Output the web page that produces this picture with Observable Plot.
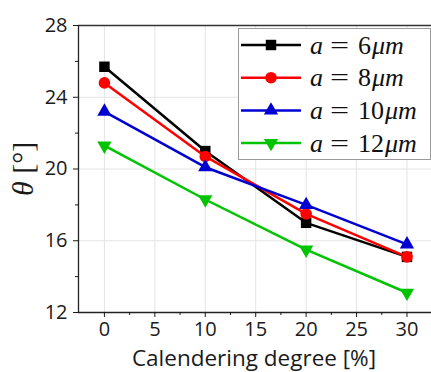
<!DOCTYPE html>
<html>
<head>
<meta charset="utf-8">
<script src="https://cdn.jsdelivr.net/npm/d3@7"></script>
<script src="https://cdn.jsdelivr.net/npm/@observablehq/plot@0.6"></script>
<style>
  body { margin: 0; background: #fff; }
  #chart { position: relative; width: 431px; height: 372px; overflow: hidden; }
  #chart svg { display: block; }
</style>
</head>
<body>
<div id="chart"></div>
<script>
// Contact angle θ versus calendering degree for four particle sizes a
const calendering = [0, 10, 20, 30];
const theta6 = [25.7, 21.0, 17.0, 15.1];
const theta8 = [24.8, 20.7, 17.5, 15.1];
const theta10 = [23.2, 20.1, 18.0, 15.8];
const theta12 = [21.3, 18.3, 15.5, 13.1];
const sizeLabels = ["6", "8", "10", "12"];
const seriesColors = ["#000000", "#ff0000", "#0000d0", "#00c400"];

const xTicks = [0, 5, 10, 15, 20, 25, 30];
const xMinorTicks = [2.5, 7.5, 12.5, 17.5, 22.5, 27.5];
const yTicks = [12, 16, 20, 24, 28];
const yMinorTicks = [14, 18, 22, 26];
const xDomain = [-2.57, 32.43];
const yDomain = [12, 28];

// downward-pointing triangle, same geometry as d3.symbolTriangle flipped
const triangleDown = {
  draw(ctx, size) {
    const s3 = Math.sqrt(3);
    const y = Math.sqrt(size / (s3 * 3));
    ctx.moveTo(0, 2 * y);
    ctx.lineTo(-s3 * y, -y);
    ctx.lineTo(s3 * y, -y);
    ctx.closePath();
  }
};
const symbols = [d3.symbolSquare, d3.symbolCircle, d3.symbolTriangle, triangleDown];
const radii = [5.9, 5.8, 5.3, 5.3];

const values = [theta6, theta8, theta10, theta12];
const series = values.map((vals, i) => ({
  label: sizeLabels[i],
  color: seriesColors[i],
  symbol: symbols[i],
  r: radii[i],
  points: calendering.map((c, j) => ({x: c, y: vals[j]}))
}));

const sansFont = "'Open Sans', sans-serif";
const serifFont = "'Liberation Serif', 'DejaVu Serif', serif";

const marks = [
  Plot.gridX(xTicks, {stroke: "#e4e4e4", strokeOpacity: 1, strokeWidth: 1}),
  Plot.gridY(yTicks, {stroke: "#e4e4e4", strokeOpacity: 1, strokeWidth: 1}),
  Plot.ruleY([yDomain[1]], {stroke: "#333", strokeWidth: 1.3}),
  Plot.ruleY([yDomain[0]], {stroke: "#222", strokeWidth: 1.3}),
  Plot.ruleX([xDomain[0]], {stroke: "#222", strokeWidth: 1.3}),
  Plot.axisX({ticks: xTicks, tickSize: 5, tickPadding: 4, fontSize: 20, label: null, tickFormat: d => String(d)}),
  Plot.axisX({ticks: xMinorTicks, tickSize: 3, tickFormat: () => "", label: null}),
  Plot.axisY({ticks: yTicks, tickSize: 5, tickPadding: 6, fontSize: 20, label: null, tickFormat: d => String(d)}),
  Plot.axisY({ticks: yMinorTicks, tickSize: 3, tickFormat: () => "", label: null})
];
for (const s of series) {
  marks.push(Plot.line(s.points, {x: "x", y: "y", stroke: s.color, strokeWidth: 2.5}));
  marks.push(Plot.dot(s.points, {x: "x", y: "y", symbol: s.symbol, r: s.r, fill: s.color, stroke: "none"}));
}

const chart = Plot.plot({
  width: 431,
  height: 372,
  marginLeft: 78,
  marginRight: 0,
  marginTop: 25,
  marginBottom: 60,
  style: {fontFamily: sansFont, color: "#1a1a1a", background: "#fff", overflow: "hidden"},
  x: {domain: xDomain},
  y: {domain: yDomain},
  marks
});
document.getElementById("chart").appendChild(chart);

const svg = d3.select(chart);

// axis titles
svg.append("text")
  .attr("x", 254).attr("y", 366)
  .attr("text-anchor", "middle")
  .style("font-family", sansFont)
  .style("font-size", "22.5px")
  .attr("fill", "#1a1a1a")
  .text("Calendering degree [%]");

const yTitle = svg.append("text")
  .attr("transform", "translate(33,169) rotate(-90)")
  .attr("text-anchor", "middle")
  .style("font-family", serifFont)
  .style("font-size", "30px")
  .attr("fill", "#1a1a1a");
yTitle.append("tspan").style("font-style", "italic").text("θ");
yTitle.append("tspan").text(" [°]");

// legend box: line + marker sample, then "a = N μm"
const digitWidth = 13;
const legend = svg.append("g").attr("text-anchor", "start");
legend.append("rect")
  .attr("x", 238.5).attr("y", 28.5).attr("width", 192).attr("height", 131)
  .attr("fill", "#fff").attr("stroke", "#9a9a9a").attr("stroke-width", 1);
series.forEach((s, i) => {
  const cy = 45 + i * 32.7;
  const row = legend.append("g")
    .style("font-family", serifFont)
    .style("font-size", "26px")
    .attr("fill", "#111");
  row.append("line")
    .attr("x1", 241).attr("x2", 301).attr("y1", cy).attr("y2", cy)
    .attr("stroke", s.color).attr("stroke-width", 2.5);
  row.append("path")
    .attr("transform", `translate(271,${cy})`)
    .attr("d", d3.symbol(s.symbol, s.r * s.r * Math.PI)())
    .attr("fill", s.color);
  const base = cy + 8.5;
  row.append("text").attr("x", 310).attr("y", base).style("font-style", "italic").text("a");
  row.append("text")
    .attr("transform", `translate(330,${base}) scale(1.3,1)`).text("=");
  row.append("text").attr("x", 358).attr("y", base).text(s.label);
  row.append("text")
    .attr("x", 358 + digitWidth * s.label.length + 1).attr("y", base)
    .style("font-style", "italic").text("μm");
});
</script>
</body>
</html>
